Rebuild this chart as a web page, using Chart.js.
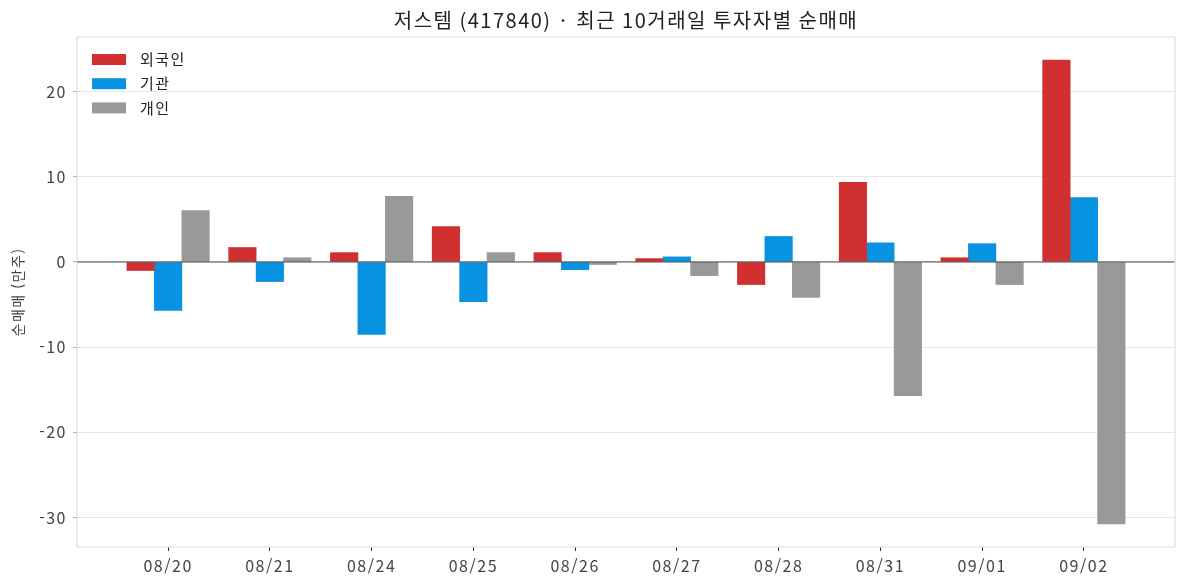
<!DOCTYPE html>
<html lang="ko">
<head>
    <meta charset="UTF-8">
    <title>저스템 순매매</title>
    <script src="https://cdn.jsdelivr.net/npm/chart.js"></script>
    <style>
        html, body { margin: 0; padding: 0; background: #fff; }
        #wrap { width: 1187px; height: 587px; }
    </style>
</head>
<body>
    <div id="wrap"><canvas id="chart"></canvas></div>

    <script>
        // 최근 10거래일, 단위: 만주
        const dates = ['08/20', '08/21', '08/24', '08/25', '08/26', '08/27', '08/28', '08/31', '09/01', '09/02'];
        const foreign = [-1.0, 1.7, 1.1, 4.15, 1.1, 0.4, -2.65, 9.35, 0.5, 23.7];
        const institution = [-5.7, -2.3, -8.5, -4.65, -0.9, 0.6, 3.0, 2.25, 2.15, 7.55];
        const individual = [6.05, 0.5, 7.7, 1.1, -0.3, -1.6, -4.15, -15.7, -2.65, -30.75];

        const FONT = "'Noto Sans CJK KR', 'Noto Sans', sans-serif";
        const barW = 0.27;

        // 막대는 날짜 인덱스 기준으로 좌/중/우에 배치
        function toPoints(values, shift) {
            return values.map((v, i) => ({ x: i + shift, y: v }));
        }

        // matplotlib 식 5% 여백
        const allVals = foreign.concat(institution, individual);
        const yLo = Math.min(...allVals), yHi = Math.max(...allVals);
        const yPad = (yHi - yLo) * 0.05;
        const xLo = -barW - barW / 2, xHi = dates.length - 1 + barW + barW / 2;
        const xPad = (xHi - xLo) * 0.05;

        // 글자 간격 (canvas 크기 변경 시 초기화되므로 매번 지정)
        const spacing = {
            id: 'spacing',
            beforeUpdate(chart) { chart.ctx.letterSpacing = '1.5px'; },
            beforeDraw(chart) { chart.ctx.letterSpacing = '1.5px'; }
        };

        const frame = {
            id: 'frame',
            afterDatasetsDraw(chart) {
                const { ctx, chartArea: a, scales } = chart;
                const y0 = scales.y.getPixelForValue(0);
                ctx.save();
                ctx.strokeStyle = '#444';
                ctx.lineWidth = 1;
                ctx.beginPath();
                ctx.moveTo(a.left, y0);
                ctx.lineTo(a.right, y0);
                ctx.stroke();
                ctx.strokeStyle = '#d9d9d9';
                ctx.strokeRect(a.left, a.top, a.right - a.left, a.bottom - a.top);
                ctx.restore();
            }
        };

        // 범례: 플롯 안쪽 왼쪽 위, 세로로
        const innerLegend = {
            id: 'innerLegend',
            afterDraw(chart) {
                const { ctx, chartArea: a } = chart;
                ctx.save();
                ctx.font = '15px ' + FONT;
                ctx.textBaseline = 'middle';
                chart.data.datasets.forEach((ds, i) => {
                    const cy = a.top + 22.5 + i * 24.2;
                    ctx.fillStyle = ds.backgroundColor;
                    ctx.fillRect(a.left + 15, cy - 5.5, 34, 11);
                    ctx.fillStyle = '#222';
                    ctx.fillText(ds.label, a.left + 63, cy);
                });
                ctx.restore();
            }
        };

        new Chart(document.getElementById('chart'), {
            type: 'bar',
            data: {
                datasets: [
                    { label: '외국인', data: toPoints(foreign, -barW), backgroundColor: '#d13030' },
                    { label: '기관', data: toPoints(institution, 0), backgroundColor: '#0893e2' },
                    { label: '개인', data: toPoints(individual, barW), backgroundColor: '#999999' }
                ]
            },
            options: {
                responsive: true,
                maintainAspectRatio: false,
                animation: false,
                datasets: {
                    bar: { grouped: false, barPercentage: 1, categoryPercentage: 1 }
                },
                layout: { padding: { left: 0, right: 12, top: 0, bottom: 0 } },
                plugins: {
                    title: {
                        display: true,
                        fullSize: false,
                        text: '저스템 (417840) · 최근 10거래일 투자자별 순매매',
                        color: '#222',
                        font: { family: FONT, size: 20, weight: 'normal', lineHeight: 1.2 },
                        padding: { top: 8, bottom: 5 }
                    },
                    legend: { display: false },
                    tooltip: { enabled: false }
                },
                scales: {
                    x: {
                        type: 'linear',
                        offset: false,
                        min: xLo - xPad,
                        max: xHi + xPad,
                        afterBuildTicks(scale) {
                            scale.ticks = dates.map((d, i) => ({ value: i }));
                        },
                        afterFit(scale) { scale.height = 40; },
                        ticks: {
                            color: '#444',
                            padding: 5,
                            maxRotation: 0,
                            autoSkip: false,
                            font: { family: FONT, size: 16 },
                            callback: (v) => dates[v]
                        },
                        grid: { offset: false, drawOnChartArea: false, tickLength: 4, tickColor: '#333' },
                        border: { display: false }
                    },
                    y: {
                        min: yLo - yPad,
                        max: yHi + yPad,
                        afterFit(scale) { scale.width = 77; },
                        ticks: {
                            stepSize: 10,
                            includeBounds: false,
                            color: '#444',
                            padding: 6,
                            font: { family: FONT, size: 16 }
                        },
                        grid: { color: '#e6e6e6', tickLength: 4, tickColor: '#aaa' },
                        border: { display: false },
                        title: {
                            display: true,
                            text: '순매매 (만주)',
                            color: '#444',
                            padding: { top: 9, bottom: 2 },
                            font: { family: FONT, size: 14 }
                        }
                    }
                }
            },
            plugins: [spacing, frame, innerLegend]
        });
    </script>
</body>
</html>
